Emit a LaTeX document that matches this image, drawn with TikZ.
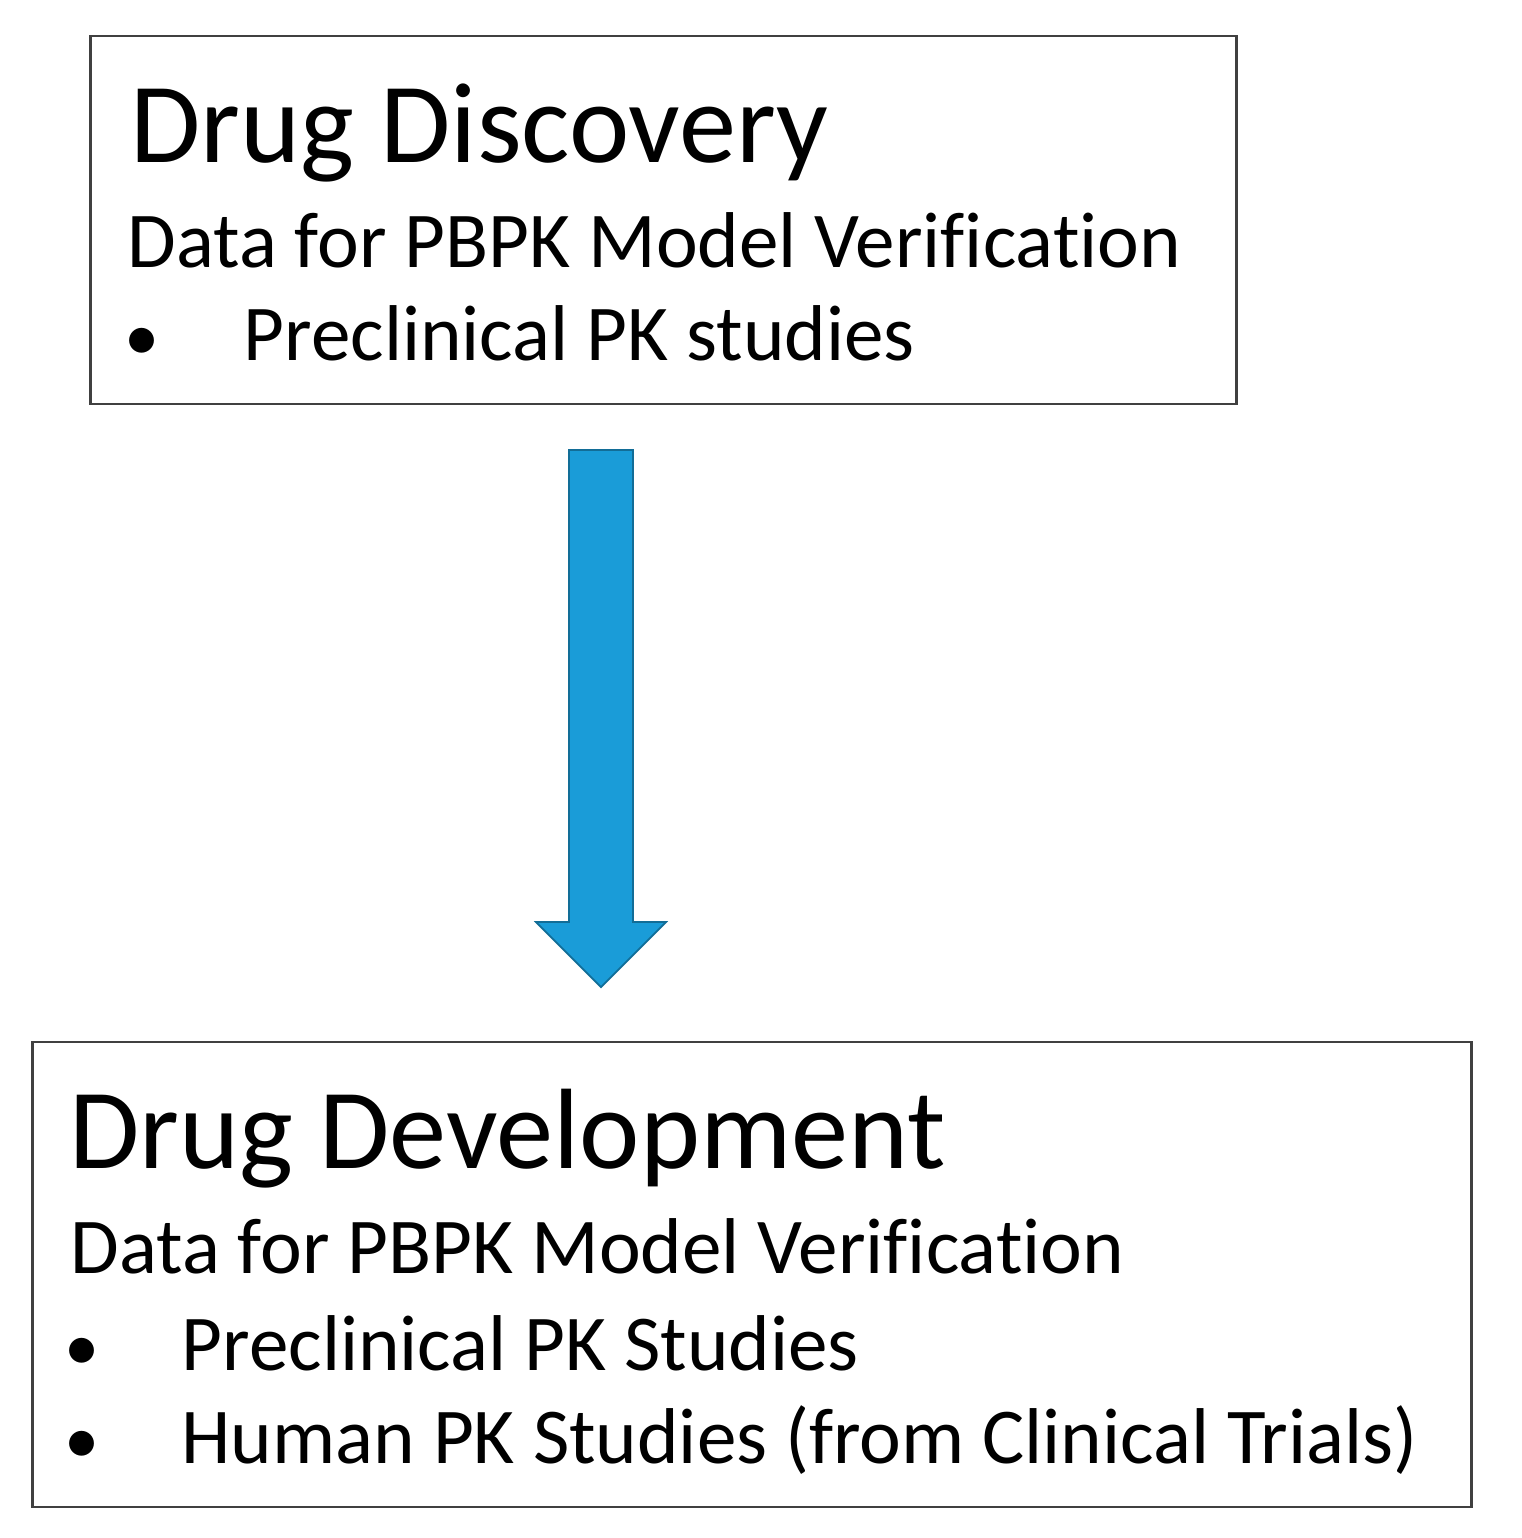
\documentclass[tikz,border=0pt]{standalone}
\usepackage{fontspec}
\setmainfont{Carlito}[Ligatures=NoCommon]
\usetikzlibrary{positioning, calc, arrows.meta}
\definecolor{arrowblue}{RGB}{26,156,216}
\tikzset{
	stage/.style={draw=black!75, line width=0.75pt, inner sep=0pt},
	heading/.style={anchor=base west, inner sep=0pt, font=\fontsize{32.5}{36}\selectfont},
	body/.style={anchor=base west, inner sep=0pt, font=\fontsize{22.5}{26}\selectfont},
	dot/.style={anchor=base, inner sep=0pt, font=\fontsize{20}{24}\selectfont},
}
\begin{document}
\begin{tikzpicture}[x=0.01cm, y=-0.01cm]
	\useasboundingbox (0,0) rectangle (1522,1538);

	\node[stage, minimum width=11.45cm, minimum height=3.68cm] (discovery) at (663.5,220) {};
	\node[stage, minimum width=14.38cm, minimum height=4.65cm] (development) at (752,1274.5) {};

	\node[heading] (discoverytitle) at (130,162) {Drug Discovery};
	\node[body] (discoverydata) at (127,267) {Data for PBPK Model Verification};
	\node[dot] (discoverydot) at (142,360) {•};
	\node[body] (discoveryitem) at (243,360) {Preclinical PK studies};

	\node[heading] (developmenttitle) at (69,1168) {Drug Development};
	\node[body] (developmentdata) at (70,1273) {Data for PBPK Model Verification};
	\foreach \y/\item in {1370/Preclinical PK Studies, 1463/Human PK Studies (from Clinical Trials)} {
		\node[dot] at (82,\y) {•};
		\node[body] at (181,\y) {\item};
	}

	\coordinate (tail) at (601,450);
	\coordinate (tip) at (601,987);
	\fill[arrowblue, draw=arrowblue!70!black, line width=0.5pt] ($(tail)+(-32,0)$) -- ($(tail)+(32,0)$) -- ($(tip)+(32,-65)$) -- ($(tip)+(65,-65)$) -- (tip) -- ($(tip)+(-65,-65)$) -- ($(tip)+(-32,-65)$) -- cycle;
\end{tikzpicture}
\end{document}
